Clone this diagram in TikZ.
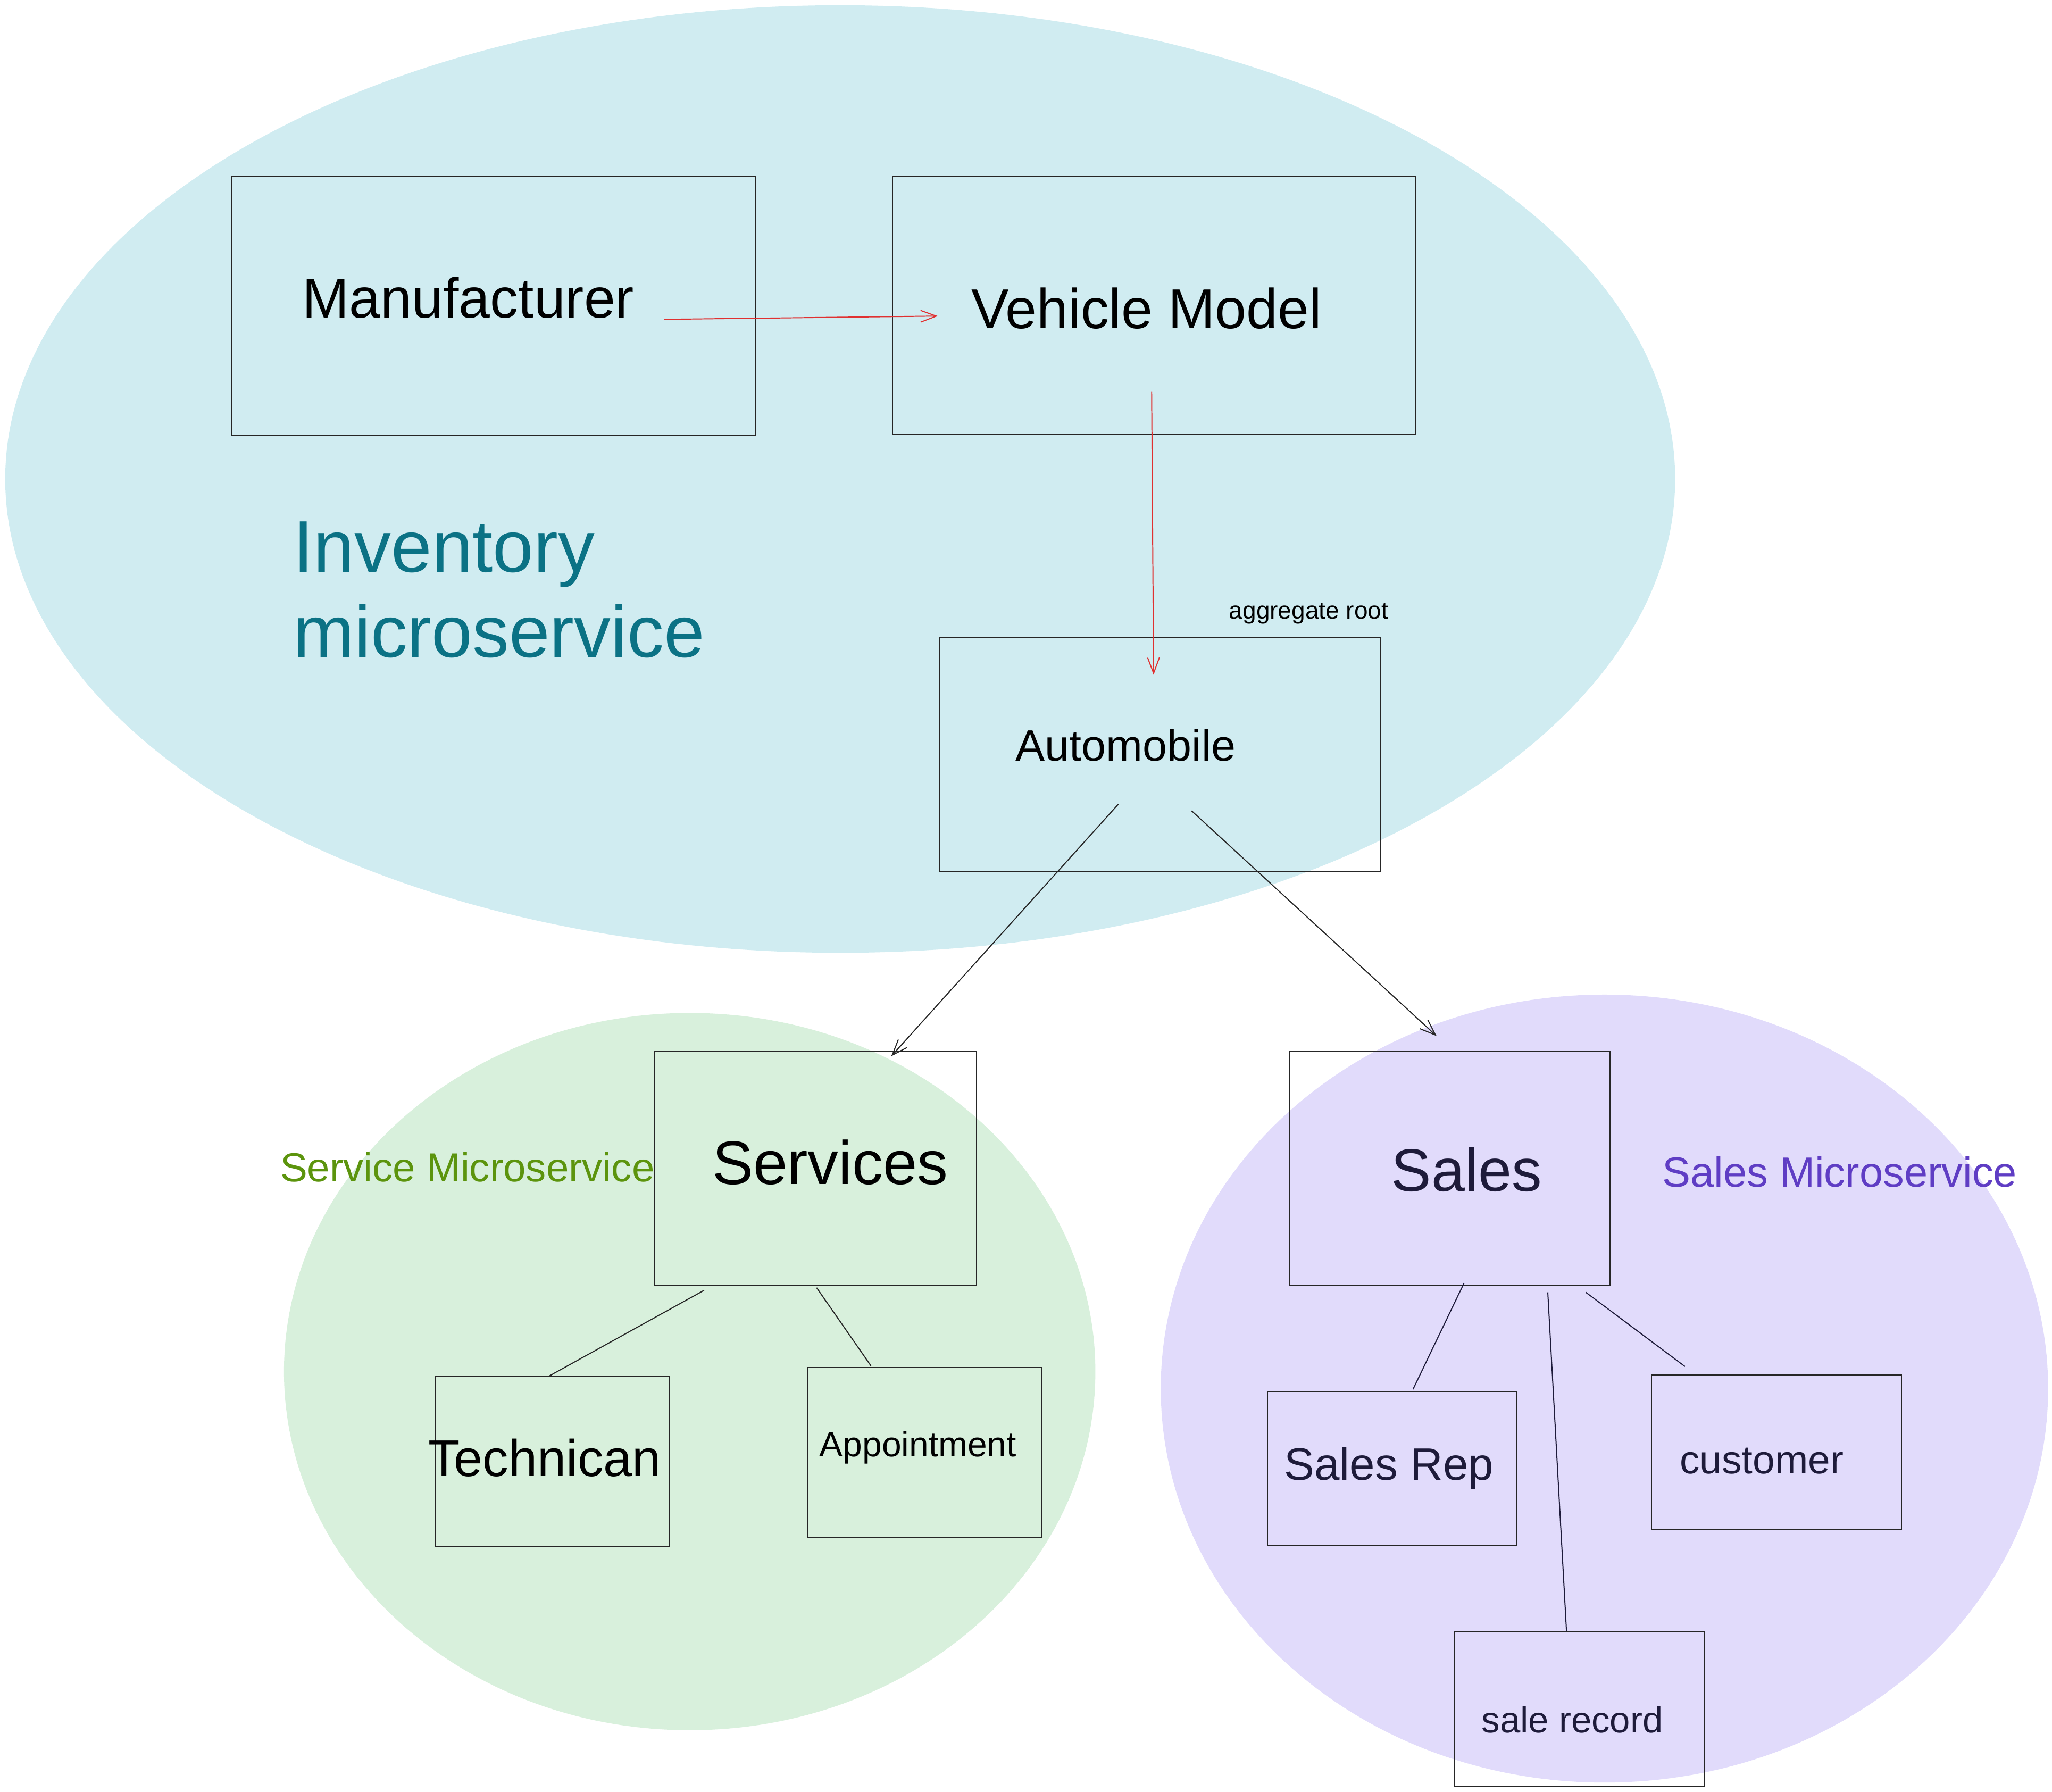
\documentclass[tikz,border=0pt]{standalone}
\usepackage{fontspec}
\setmainfont{Liberation Sans}
\usetikzlibrary{arrows.meta,calc}
\definecolor{invfill}{HTML}{D0ECF1}
\definecolor{svcfill}{HTML}{D8F0DC}
\definecolor{salefill}{HTML}{E1DBFB}
\definecolor{invtext}{HTML}{0B7285}
\definecolor{svctext}{HTML}{5C940D}
\definecolor{saletext}{HTML}{5F3DC4}
\definecolor{inkdark}{HTML}{1E1B3A}
\definecolor{arrowred}{HTML}{E03131}
\newcommand{\setfs}[1]{\fontsize{#1}{#1}\selectfont}
\tikzset{
  box/.style={draw=black!85, line width=0.8pt, inner sep=0pt},
  txt/.style={inner sep=0pt, anchor=base west},
  link/.style={draw=black!85, line width=0.8pt},
  tip/.style={-{Straight Barb[length=12pt,width=9pt]}},
}
\begin{document}
\begin{tikzpicture}[x=1pt,y=-1pt]
  \useasboundingbox (0,0) rectangle (1568,1369);
  % contexts
  \fill[invfill] (642,366) ellipse [x radius=638pt, y radius=362pt];
  \fill[svcfill] (527,1048) ellipse [x radius=310pt, y radius=274pt];
  \fill[salefill] (1226,1061) ellipse [x radius=339pt, y radius=301pt];
  \draw
    (377,234) node[box, minimum width=400pt, minimum height=198pt] (manuf){}
    (882,233.5) node[box, minimum width=400pt, minimum height=197pt] (vmodel){}
    (886.5,576.5) node[box, minimum width=337pt, minimum height=179pt] (auto){}
    (623,893) node[box, minimum width=246pt, minimum height=179pt] (serv){}
    (422,1116.6) node[box, minimum width=179pt, minimum height=130pt] (tech){}
    (706.5,1110) node[box, minimum width=179pt, minimum height=130pt] (appt){}
    (1107.7,892.5) node[box, minimum width=245pt, minimum height=179pt] (sales){}
    (1063.7,1122) node[box, minimum width=190pt, minimum height=118pt] (rep){}
    (1357.5,1109.5) node[box, minimum width=191pt, minimum height=118pt] (cust){}
    (1206.5,1305.7) node[box, minimum width=191pt, minimum height=118pt] (rec){};
  \draw
    (231,243) node[txt, font=\setfs{43}] (manuf-t){Manufacturer}
    (742,251) node[txt, font=\setfs{43}] (vmodel-t){Vehicle Model}
    (224,502) node[txt, align=left, text=invtext, font=\fontsize{56}{65}\selectfont] (inv-t){Inventory\\microservice}
    (939,473) node[txt, font=\setfs{18.7}] (aggr-t){aggregate root}
    (776,581.5) node[txt, font=\setfs{33.6}] (auto-t){Automobile}
    (214,903) node[txt, text=svctext, font=\setfs{31}] (svc-t){Service Microservice}
    (544,905) node[txt, font=\setfs{47}] (serv-t){Services}
    (327,1128) node[txt, font=\setfs{39.5}] (tech-t){Technican}
    (626,1113) node[txt, font=\setfs{26.8}] (appt-t){Appointment}
    (1063,910) node[txt, text=inkdark, font=\setfs{46}] (sales-t){Sales}
    (1270,907) node[txt, text=saletext, font=\setfs{32.3}] (salems-t){Sales Microservice}
    (981,1131) node[txt, text=inkdark, font=\setfs{34.7}] (rep-t){Sales Rep}
    (1283.5,1126) node[txt, text=inkdark, font=\setfs{30.4}] (cust-t){customer}
    (1132,1324) node[txt, text=inkdark, font=\setfs{28}] (rec-t){sale record};
  \begin{scope}[line width=0.8pt]
    \draw[tip, arrowred] ($(manuf.east)+(-70,10)$) to ($(vmodel.west)+(35,8)$);
    \draw[tip, arrowred] ($(vmodel.south)+(-2,-33)$) to ($(auto.north)+(-5,29)$);
    \draw[tip, link] ($(auto.center)+(-32,38)$) to ($(serv.north)+(58,4)$);
    \draw[tip, link] ($(auto.center)+(24,43)$) to ($(sales.north)+(-10,-11)$);
    \draw[link] ($(serv.south)+(-85,3)$) to ($(tech.north)+(-2,0)$);
    \draw[link] ($(serv.south)+(1,1)$) to ($(appt.north)+(-41,-1)$);
    \draw[link, draw=inkdark] ($(sales.south)+(11,-2)$) to ($(rep.north)+(16,-1)$);
    \draw[link, draw=inkdark] ($(sales.south)+(75,5)$) to ($(rec.north)+(-9.5,0)$);
    \draw[link, draw=inkdark] ($(sales.south)+(104,5)$) to ($(cust.north)+(-70,-6)$);
  \end{scope}
\end{tikzpicture}
\end{document}
